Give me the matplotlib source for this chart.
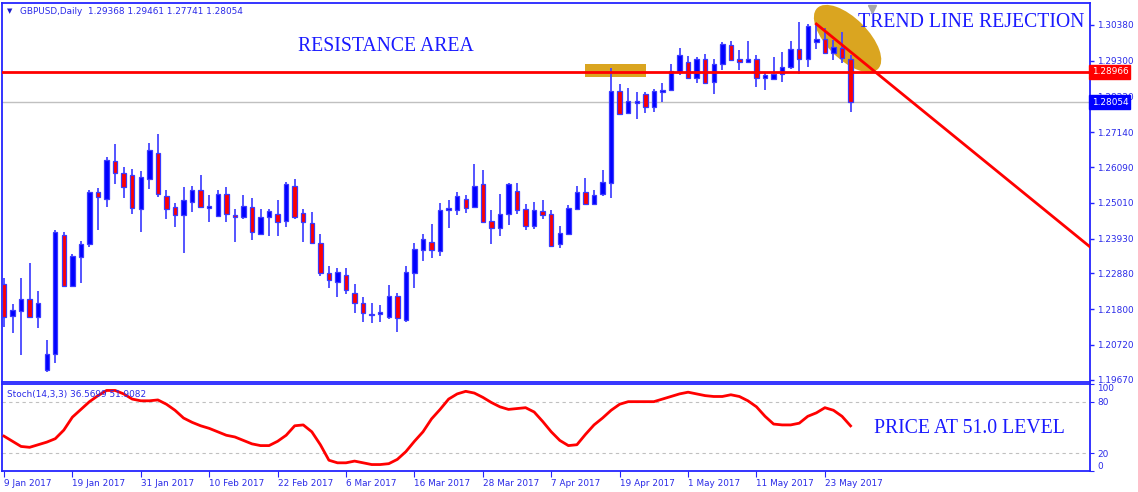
import matplotlib
matplotlib.use("Agg")
import matplotlib.pyplot as plt
import matplotlib.transforms as mtransforms
from matplotlib.patches import Ellipse, Rectangle
import numpy as np

# daily GBPUSD bars, 9 Jan 2017 .. 26 May 2017
opens = [1.2255, 1.2160, 1.2175, 1.2210, 1.2157, 1.1995, 1.2044, 1.2404, 1.2251, 1.2338,
         1.2376, 1.2534, 1.2513, 1.2626, 1.2591, 1.2585, 1.2483, 1.2574, 1.2651, 1.2522,
         1.2487, 1.2463, 1.2503, 1.2540, 1.2486, 1.2460, 1.2527, 1.2465, 1.2457, 1.2487,
         1.2406, 1.2458, 1.2468, 1.2445, 1.2553, 1.2471, 1.2439, 1.2381, 1.2290, 1.2263,
         1.2284, 1.2230, 1.2199, 1.2161, 1.2164, 1.2155, 1.2220, 1.2147, 1.2290, 1.2358,
         1.2382, 1.2356, 1.2480, 1.2479, 1.2513, 1.2489, 1.2557, 1.2446, 1.2426, 1.2466,
         1.2537, 1.2481, 1.2432, 1.2476, 1.2466, 1.2376, 1.2408, 1.2483, 1.2533, 1.2496,
         1.2529, 1.2560, 1.2839, 1.2771, 1.2803, 1.2829, 1.2791, 1.2837, 1.2842, 1.2895,
         1.2927, 1.2879, 1.2934, 1.2866, 1.2919, 1.2978, 1.2934, 1.2927, 1.2934, 1.2879,
         1.2875, 1.2889, 1.2910, 1.2965, 1.2934, 1.2986, 1.2996, 1.2953, 1.2968, 1.29368]
highs = [1.2275, 1.2194, 1.2275, 1.2320, 1.2236, 1.2087, 1.2419, 1.2414, 1.2346, 1.2386,
         1.2540, 1.2547, 1.2640, 1.2678, 1.2608, 1.2602, 1.2598, 1.2683, 1.2708, 1.2540,
         1.2501, 1.2550, 1.2552, 1.2585, 1.2524, 1.2540, 1.2550, 1.2481, 1.2524, 1.2515,
         1.2483, 1.2481, 1.2509, 1.2564, 1.2572, 1.2481, 1.2472, 1.2407, 1.2310, 1.2304,
         1.2304, 1.2256, 1.2216, 1.2198, 1.2192, 1.2253, 1.2228, 1.2310, 1.2379, 1.2408,
         1.2437, 1.2500, 1.2508, 1.2535, 1.2524, 1.2618, 1.2599, 1.2479, 1.2528, 1.2560,
         1.2560, 1.2498, 1.2503, 1.2508, 1.2479, 1.2431, 1.2495, 1.2552, 1.2575, 1.2539,
         1.2599, 1.2907, 1.2860, 1.2847, 1.2835, 1.2837, 1.2844, 1.2864, 1.2920, 1.2968,
         1.2945, 1.2942, 1.2950, 1.2935, 1.2988, 1.2991, 1.2962, 1.2990, 1.2947, 1.2895,
         1.2942, 1.2957, 1.2990, 1.3048, 1.3041, 1.3041, 1.3028, 1.2993, 1.3016, 1.29461]
lows = [1.2125, 1.2109, 1.2040, 1.2152, 1.2122, 1.1989, 1.2016, 1.2249, 1.2249, 1.2260,
        1.2369, 1.2419, 1.2489, 1.2558, 1.2516, 1.2467, 1.2412, 1.2542, 1.2520, 1.2452,
        1.2429, 1.2349, 1.2474, 1.2487, 1.2442, 1.2458, 1.2444, 1.2383, 1.2453, 1.2390,
        1.2404, 1.2402, 1.2402, 1.2429, 1.2451, 1.2383, 1.2377, 1.2280, 1.2243, 1.2216,
        1.2225, 1.2169, 1.2140, 1.2137, 1.2140, 1.2150, 1.2112, 1.2142, 1.2244, 1.2324,
        1.2334, 1.2340, 1.2424, 1.2464, 1.2469, 1.2487, 1.2440, 1.2377, 1.2402, 1.2434,
        1.2466, 1.2419, 1.2421, 1.2451, 1.2368, 1.2366, 1.2406, 1.2481, 1.2495, 1.2494,
        1.2523, 1.2515, 1.2766, 1.2769, 1.2754, 1.2771, 1.2776, 1.2805, 1.2839, 1.2887,
        1.2877, 1.2864, 1.2862, 1.2830, 1.2902, 1.2929, 1.2902, 1.2927, 1.2850, 1.2842,
        1.2872, 1.2865, 1.2904, 1.2889, 1.2912, 1.2965, 1.2950, 1.2932, 1.2922, 1.27741]
closes = [1.2157, 1.2177, 1.2210, 1.2155, 1.2198, 1.2044, 1.2414, 1.2251, 1.2340, 1.2378,
          1.2534, 1.2520, 1.2630, 1.2592, 1.2550, 1.2484, 1.2578, 1.2660, 1.2528, 1.2481,
          1.2464, 1.2510, 1.2540, 1.2489, 1.2491, 1.2528, 1.2468, 1.2458, 1.2491, 1.2412,
          1.2459, 1.2475, 1.2442, 1.2557, 1.2458, 1.2442, 1.2379, 1.2290, 1.2267, 1.2293,
          1.2238, 1.2199, 1.2167, 1.2164, 1.2170, 1.2220, 1.2154, 1.2291, 1.2362, 1.2392,
          1.2358, 1.2479, 1.2484, 1.2521, 1.2484, 1.2553, 1.2442, 1.2426, 1.2466, 1.2557,
          1.2480, 1.2432, 1.2479, 1.2464, 1.2371, 1.2411, 1.2484, 1.2534, 1.2497, 1.2524,
          1.2563, 1.2839, 1.2769, 1.2809, 1.2809, 1.2791, 1.2839, 1.2842, 1.2899, 1.2947,
          1.2879, 1.2934, 1.2864, 1.2919, 1.2981, 1.2932, 1.2927, 1.2934, 1.2879, 1.2886,
          1.2890, 1.2911, 1.2965, 1.2934, 1.3036, 1.2996, 1.2953, 1.2971, 1.2937, 1.28054]

stoch_signal = [40, 34, 28, 27, 30, 33, 37, 47, 62, 71,
                80, 87, 93, 93, 89, 83, 81, 81, 82, 77,
                70, 61, 56, 52, 49, 45, 41, 39, 35, 31,
                29, 29, 34, 41, 52, 53, 45, 30, 12, 9,
                9, 11, 9, 7, 7, 8, 13, 22, 34, 45,
                60, 71, 83, 89, 92, 90, 85, 79, 74, 71,
                72, 73, 68, 57, 45, 35, 29, 30, 42, 53,
                61, 70, 77, 80, 80, 80, 80, 83, 86, 89,
                91, 89, 87, 86, 86, 88, 86, 81, 74, 63,
                54, 53, 53, 55, 63, 67, 73, 70, 63, 51.9]

date_ticks = [0, 8, 16, 24, 32, 40, 48, 56, 64, 72, 80, 88, 96]
date_labels = ["9 Jan 2017", "19 Jan 2017", "31 Jan 2017", "10 Feb 2017", "22 Feb 2017",
               "6 Mar 2017", "16 Mar 2017", "28 Mar 2017", "7 Apr 2017", "19 Apr 2017",
               "1 May 2017", "11 May 2017", "23 May 2017"]
price_ticks = [1.30380, 1.29300, 1.28220, 1.27140, 1.26090, 1.25010,
               1.23930, 1.22880, 1.21800, 1.20720, 1.19670]

resistance = 1.28966
bid = 1.28054
# resistance box (bar from, bar to, price low, price high)
res_box = (67.9, 75.1, 1.2882, 1.2919)
# trend line points (bar, price)
trend = ([95, 128], [1.3041, 1.2347])
ellipse_center = (98.65, 1.2997)

W, H = 1138, 492
BLUE = "#2424ff"
TXT = "#2a2ae8"

def fx(px):
    return px / W

def fy(py):
    return 1 - py / H

plt.rcParams["font.family"] = "DejaVu Sans"
fig = plt.figure(figsize=(W / 100, H / 100), dpi=100)
fig.patch.set_facecolor("white")

ax = fig.add_axes([fx(2), fy(382), fx(1090) - fx(2), fy(3) - fy(382)])
ax2 = fig.add_axes([fx(2), fy(471), fx(1090) - fx(2), fy(384) - fy(471)])

n = len(opens)
idx = np.arange(n)
o = np.array(opens); c = np.array(closes)
hi = np.array(highs); lo = np.array(lows)
up = c >= o

ax.vlines(idx, lo, hi, color="#4646ff", lw=1.3, zorder=3)
bottoms = np.minimum(o, c)
heights = np.abs(c - o)
ax.bar(idx[up], heights[up], bottom=bottoms[up], width=0.52, color="#0000ff",
       edgecolor="#3a3aff", linewidth=0.9, zorder=4)
ax.bar(idx[~up], heights[~up], bottom=bottoms[~up], width=0.52, color="#ff0000",
       edgecolor="#3a3aff", linewidth=0.9, zorder=4)

# background objects
ax.add_patch(Rectangle((res_box[0], res_box[2]), res_box[1] - res_box[0], res_box[3] - res_box[2],
                       facecolor="#daa520", edgecolor="none", zorder=1))
trans = fig.dpi_scale_trans + mtransforms.ScaledTranslation(ellipse_center[0], ellipse_center[1], ax.transData)
ax.add_patch(Ellipse((0, 0), 0.86, 0.41, angle=-45, transform=trans,
                     facecolor="#daa520", edgecolor="none", zorder=1))

ax.axhline(bid, color="#c0c0c0", lw=1, zorder=2)
ax.axhline(resistance, color="#ff0000", lw=2, zorder=5)
ax.plot(trend[0], trend[1], color="#ff0000", lw=2, zorder=5)

ax.set_xlim(-0.23, 127.0)
ax.set_ylim(1.19599, 1.31044)
ax.set_xticks([])
ax.yaxis.tick_right()
ax.set_yticks(price_ticks)
ax.set_yticklabels(["%.5f" % p for p in price_ticks])
ax.tick_params(axis="y", direction="out", length=3, width=1, colors=BLUE,
               labelcolor=TXT, labelsize=6.4, pad=2)
for sp in ax.spines.values():
    sp.set_color(BLUE)
    sp.set_linewidth(1.3)

btrans = mtransforms.blended_transform_factory(ax.transAxes, ax.transData)
ax.text(1.0015, resistance, "%.5f" % resistance, transform=btrans, color="white", fontsize=6.4,
        va="center", ha="left", zorder=10,
        bbox=dict(boxstyle="square,pad=0.25", facecolor="#ff0000", edgecolor="#ff0000"))
ax.text(1.0015, bid, "%.5f" % bid, transform=btrans, color="white", fontsize=6.4,
        va="center", ha="left", zorder=10,
        bbox=dict(boxstyle="square,pad=0.25", facecolor="#0000ff", edgecolor="#0000ff"))

ax.text(34.4, 1.2960, "RESISTANCE AREA", family="Liberation Serif", fontsize=14.2,
        color="#1a1aff", ha="left", va="baseline", zorder=6)
ax.text(99.9, 1.3033, "TREND LINE REJECTION", family="Liberation Serif", fontsize=14.2,
        color="#1a1aff", ha="left", va="baseline", zorder=6)

# chart shift marker
ax.plot([101.5], [0.985], marker="v", ms=6, color="#a8a8a8",
        transform=mtransforms.blended_transform_factory(ax.transData, ax.transAxes),
        clip_on=False, zorder=7)

fig.text(fx(7), fy(11), "\u25bc", fontsize=5, color="#1a1acc", va="center", ha="left")
fig.text(fx(20), fy(11), "GBPUSD,Daily  1.29368 1.29461 1.27741 1.28054", fontsize=6.4,
         color=TXT, va="center", ha="left")

# stochastic panel
ax2.plot(idx, stoch_signal, color="#ff0000", lw=2, zorder=3)
ax2.axhline(80, color="#c0c0c0", lw=0.8, ls=(0, (3, 3)))
ax2.axhline(20, color="#c0c0c0", lw=0.8, ls=(0, (3, 3)))
ax2.set_xlim(-0.23, 127.0)
ax2.set_ylim(-0.5, 100.5)
ax2.yaxis.tick_right()
ax2.set_yticks([0, 20, 80, 100])
ax2.set_yticklabels(["0", "20", "80", "100"])
ax2.tick_params(axis="y", direction="out", length=3, colors=BLUE, labelcolor=TXT,
                labelsize=6.4, pad=2)
lbls = ax2.get_yticklabels()
lbls[0].set_va("bottom")
lbls[3].set_va("top")
ax2.set_xticks(date_ticks)
ax2.set_xticklabels(date_labels)
ax2.tick_params(axis="x", direction="out", length=4, colors=BLUE, labelcolor=TXT,
                labelsize=6.4, pad=2)
for t in ax2.get_xticklabels():
    t.set_ha("left")
for sp in ax2.spines.values():
    sp.set_color(BLUE)
    sp.set_linewidth(1.3)

ax2.text(0.005, 0.93, "Stoch(14,3,3) 36.5699 51.9082", transform=ax2.transAxes, fontsize=6.4,
         color=TXT, va="top", ha="left")
ax2.text(101.75, 43.9, "PRICE AT 51.0 LEVEL", family="Liberation Serif", fontsize=14.2,
         color="#1a1aff", ha="left", va="baseline")

fig.savefig("out.png", dpi=100)
